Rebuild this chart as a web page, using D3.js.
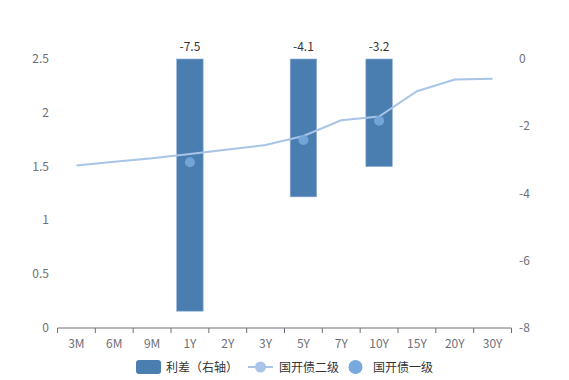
<!DOCTYPE html>
<html><head><meta charset="utf-8">
<script src="https://cdn.jsdelivr.net/npm/d3@7"></script>
<style>body{margin:0;background:#fff;font-family:"Noto Sans CJK SC","Microsoft YaHei",sans-serif;}</style>
</head><body><svg id="c" width="569" height="380"></svg>
<script>
const categories = ["3M","6M","9M","1Y","2Y","3Y","5Y","7Y","10Y","15Y","20Y","30Y"];
const level2 = [1.51,1.545,1.577,1.617,1.66,1.70,1.784,1.93,1.965,2.20,2.31,2.317];
const level1 = [null,null,null,1.54,null,null,1.747,null,1.926,null,null,null];
const spread = [null,null,null,-7.5,null,null,-4.1,null,-3.2,null,null,null];
const leftTicks = [0,0.5,1,1.5,2,2.5];
const rightTicks = [0,-2,-4,-6,-8];

const svg = d3.select("#c");
const font = '"Noto Sans CJK SC","Microsoft YaHei",sans-serif';
const x = d3.scaleBand().domain(categories).range([57.5,511.5]);
const yL = d3.scaleLinear().domain([0,2.5]).range([328,59]);
const yR = d3.scaleLinear().domain([-8,0]).range([328,59]);

// bars
const bw = x.bandwidth()*0.7;
svg.append("g").selectAll("rect").data(categories.map((c,i)=>({c,v:spread[i]})).filter(d=>d.v!==null))
 .join("rect")
 .attr("x",d=>x(d.c)+x.bandwidth()/2-bw/2).attr("width",bw)
 .attr("y",yR(0)).attr("height",d=>yR(d.v)-yR(0))
 .attr("fill","#4a7eb0").attr("stroke","#8fb0d6").attr("stroke-width",0.6);
svg.append("g").selectAll("text").data(categories.map((c,i)=>({c,v:spread[i]})).filter(d=>d.v!==null))
 .join("text")
 .attr("x",d=>x(d.c)+x.bandwidth()/2).attr("y",yR(0)-8)
 .attr("text-anchor","middle").attr("font-size",12).attr("fill","#333").attr("font-family",font)
 .text(d=>d.v.toFixed(1));

// line
const line = d3.line().x((d,i)=>x(categories[i])+x.bandwidth()/2).y(d=>yL(d));
svg.append("path").datum(level2).attr("d",line).attr("fill","none")
 .attr("stroke","#a8c4e6").attr("stroke-width",2);

// points
svg.append("g").selectAll("circle").data(categories.map((c,i)=>({c,v:level1[i]})).filter(d=>d.v!==null))
 .join("circle")
 .attr("cx",d=>x(d.c)+x.bandwidth()/2).attr("cy",d=>yL(d.v)).attr("r",5)
 .attr("fill","#78a9dc").attr("opacity",0.9);

// x axis
const xa = svg.append("g").attr("transform","translate(0,328)");
xa.append("line").attr("x1",57.5).attr("x2",511.5).attr("stroke","#6e7079");
const bounds = categories.map(c=>x(c)).concat([x.range()[1]]);
xa.selectAll("line.t").data(bounds).join("line").attr("class","t")
 .attr("x1",d=>d).attr("x2",d=>d).attr("y1",0).attr("y2",5).attr("stroke","#6e7079");
xa.selectAll("text").data(categories).join("text")
 .attr("x",d=>x(d)+x.bandwidth()/2).attr("y",20).attr("text-anchor","middle")
 .attr("font-size",12).attr("fill","#6e7079").attr("font-family",font).text(d=>d);

// y axes labels
svg.append("g").selectAll("text").data(leftTicks).join("text")
 .attr("x",49).attr("y",d=>yL(d)+4).attr("text-anchor","end")
 .attr("font-size",12).attr("fill","#6e7079").attr("font-family",font).text(d=>d);
svg.append("g").selectAll("text").data(rightTicks).join("text")
 .attr("x",519).attr("y",d=>yR(d)+4).attr("text-anchor","start")
 .attr("font-size",12).attr("fill","#6e7079").attr("font-family",font).text(d=>d);

// legend
const lg = svg.append("g").attr("font-family",font).attr("font-size",12).attr("fill","#333");
lg.append("rect").attr("x",136).attr("y",360).attr("width",25).attr("height",14).attr("rx",3).attr("fill","#4a7eb0");
lg.append("text").attr("x",166).attr("y",371.5).text("利差（右轴）");
lg.append("line").attr("x1",248).attr("x2",273).attr("y1",367).attr("y2",367).attr("stroke","#a8c4e6").attr("stroke-width",2);
lg.append("circle").attr("cx",260.5).attr("cy",367).attr("r",5.5).attr("fill","#a8c4e6");
lg.append("text").attr("x",279).attr("y",371.5).text("国开债二级");
lg.append("circle").attr("cx",355.5).attr("cy",367).attr("r",7).attr("fill","#78a9dc");
lg.append("text").attr("x",373).attr("y",371.5).text("国开债一级");
</script></body></html>
